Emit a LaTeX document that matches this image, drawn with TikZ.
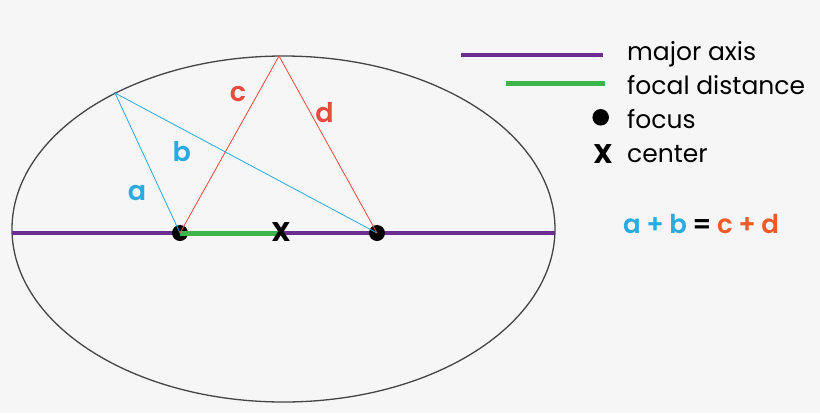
\documentclass[tikz,border=0pt]{standalone}
\usepackage{fontspec}
\setmainfont{Poppins}
\newfontfamily\semifont{Poppins SemiBold}
\usetikzlibrary{positioning}
\definecolor{bgcol}{HTML}{F6F6F6}
\definecolor{axiscol}{HTML}{6A2D91}
\definecolor{focalcol}{HTML}{3DB54A}
\definecolor{bluecol}{HTML}{29ABE2}
\definecolor{redcol}{HTML}{EB4A3E}
\definecolor{eqred}{HTML}{F05A28}
\definecolor{rimcol}{HTML}{444444}
\newcommand{\eqgap}{\hspace{5.5pt}}

\begin{document}
\begin{tikzpicture}[
  x=1pt, y=-1pt,
  focus/.style={circle, fill=black, inner sep=0pt, minimum size=16pt},
  cross/.style={inner sep=0pt, font=\fontsize{27}{30}\selectfont\bfseries},
  lbl/.style={inner sep=0pt, font=\fontsize{27}{30}\semifont},
  legend/.style={anchor=base west, inner sep=0pt, font=\fontsize{25}{30}\selectfont},
  chord/.style={line width=0.8pt}
]
\useasboundingbox (0,0) rectangle (820,413);
\fill[bgcol] (0,0) rectangle (820,413);

% ellipse and its axes
\draw[rimcol, line width=1.3pt] (283.5,229) ellipse [x radius=271.5, y radius=173];
\coordinate (left) at (12,233);
\coordinate (right) at (555,233);
\coordinate (top) at (279,56);
\coordinate (upper) at (115,93);
\draw[axiscol, line width=4pt] (left) -- (right);

\node[focus] (f1) at (180,233) {};
\node[focus] (f2) at (377,233) {};
\coordinate (mid) at (281,233);
\draw[focalcol, line width=5pt] (f1.center) -- (mid);
\node[cross] (cx) at (281,232) {X};

% distances to the foci
\draw[chord, bluecol] (f1.center) -- (upper) -- (f2.center);
\draw[chord, redcol] (f1.center) -- (top) -- (f2.center);
\node[lbl, text=bluecol] (la) at (137,193) {a};
\node[lbl, text=bluecol] (lb) at (181.7,151.7) {b};
\node[lbl, text=redcol] (lc) at (238,94) {c};
\node[lbl, text=redcol] (ld) at (324.5,113) {d};

% legend
\coordinate (k1a) at (461,55);
\coordinate (k1b) at (603,55);
\coordinate (k2a) at (506,83.5);
\coordinate (k2b) at (605,83.5);
\draw[axiscol, line width=4pt] (k1a) -- (k1b);
\draw[focalcol, line width=5pt] (k2a) -- (k2b);
\node[focus, minimum size=16.5pt] (kdot) at (600.7,117.3) {};
\node[cross] (kx) at (603,153.7) {X};
\node[legend] (t1) at (627,60.7) {major axis};
\node[legend] (t2) at (627,94) {focal distance};
\node[legend] (t3) at (627,128) {focus};
\node[legend] (t4) at (627,162) {center};

\node[anchor=base west, inner sep=0pt, font=\fontsize{26}{30}\semifont] (eq) at (623,233)
  {\textcolor{bluecol}{a\eqgap+\eqgap b}\eqgap=\eqgap\textcolor{eqred}{c\eqgap+\eqgap d}};
\end{tikzpicture}
\end{document}
